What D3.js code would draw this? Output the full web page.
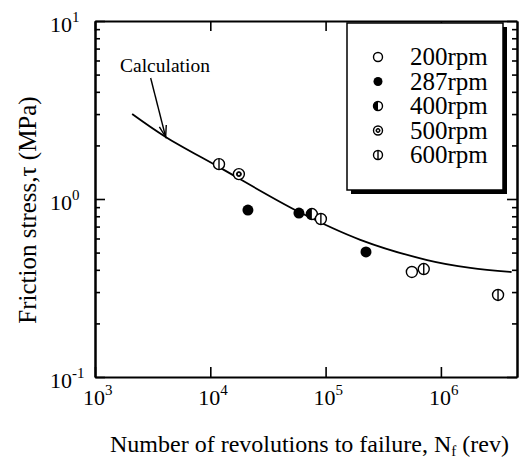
<!DOCTYPE html>
<html>
<head>
<meta charset="utf-8">
<script src="https://cdn.jsdelivr.net/npm/d3@7"></script>
<style>
  html, body { margin: 0; padding: 0; background: #fff; }
  svg { display: block; }
  text { font-family: "Liberation Serif", "Times New Roman", serif; fill: #000; }
</style>
</head>
<body>
<svg id="chart" width="531" height="463"></svg>
<script>
// Measured fatigue life vs. friction stress, grouped by rotational speed
const speeds = ["200rpm", "287rpm", "400rpm", "500rpm", "600rpm"];
const markerKinds = ["open", "filled", "half", "ring", "bar"];

const pointsN   = [1.19e4, 1.77e4, 2.12e4, 5.87e4, 7.6e4, 9.1e4, 2.24e5, 5.6e5, 7.1e5, 3.13e6];
const pointsTau = [1.57,   1.38,   0.867,  0.834,  0.823, 0.772, 0.504,  0.389, 0.404, 0.289];
const pointsSpeed = ["600rpm", "500rpm", "287rpm", "287rpm", "400rpm", "600rpm", "287rpm", "200rpm", "600rpm", "600rpm"];

// Calculated friction stress curve
const calcN   = [2.1e3, 4.1e3, 1.19e4, 5.9e4, 2.0e5, 7.6e5, 1.8e6, 4.1e6];
const calcTau = [3.0,   2.23,  1.51,   0.845, 0.59,  0.454, 0.41,  0.389];
const calcArrowN = 4.1e3, calcArrowTau = 2.23;

const xTickExps = [3, 4, 5, 6];
const yTickExps = [-1, 0, 1];
const yMinor = [];
for (let e = -1; e < 1; e++) for (let m = 2; m <= 9; m++) yMinor.push(m * Math.pow(10, e));

const plotL = 95, plotR = 517, plotT = 21, plotB = 377;
const decadeX = 115.3;

const x = d3.scaleLog()
  .domain([1e3, Math.pow(10, 3 + (plotR - plotL) / decadeX)])
  .range([plotL, plotR]);
const y = d3.scaleLog().domain([0.1, 10]).range([plotB, plotT]);

const svg = d3.select("#chart");

// Axes: ticks point into the plot
const axisStyle = g => {
  g.select(".domain").attr("stroke", "#000").attr("stroke-width", 2);
  g.selectAll(".tick line").attr("stroke", "#000").attr("stroke-width", 1.6);
  g.selectAll(".tick text").remove();
};
const xMajor = xTickExps.map(e => Math.pow(10, e));
const yMajor = yTickExps.map(e => Math.pow(10, e));
svg.append("g").attr("transform", `translate(0,${plotB})`)
  .call(d3.axisBottom(x).tickValues(xMajor).tickSizeInner(-10).tickSizeOuter(0).tickFormat(""))
  .call(axisStyle);
svg.append("g").attr("transform", `translate(0,${plotT})`)
  .call(d3.axisTop(x).tickValues(xMajor).tickSizeInner(-10).tickSizeOuter(0).tickFormat(""))
  .call(axisStyle);
svg.append("g").attr("transform", `translate(${plotL},0)`)
  .call(d3.axisLeft(y).tickValues(yMajor).tickSizeInner(-10).tickSizeOuter(0).tickFormat(""))
  .call(axisStyle);
svg.append("g").attr("transform", `translate(${plotL},0)`)
  .call(d3.axisLeft(y).tickValues(yMinor).tickSizeInner(-5).tickSizeOuter(0).tickFormat(""))
  .call(axisStyle);
svg.append("g").attr("transform", `translate(${plotR},0)`)
  .call(d3.axisRight(y).tickValues(yMajor).tickSizeInner(-10).tickSizeOuter(0).tickFormat(""))
  .call(axisStyle);
svg.append("g").attr("transform", `translate(${plotR},0)`)
  .call(d3.axisRight(y).tickValues(yMinor).tickSizeInner(-5).tickSizeOuter(0).tickFormat(""))
  .call(axisStyle);

// Tick labels as powers of ten
xTickExps.forEach(e => {
  const t = svg.append("text")
    .attr("x", x(Math.pow(10, e)) - 12).attr("y", plotB + 28)
    .attr("font-size", 22);
  t.append("tspan").text("10");
  t.append("tspan").attr("dy", -10).attr("font-size", 15).text(e);
});
yTickExps.forEach(e => {
  const t = svg.append("text")
    .attr("x", 50).attr("y", y(Math.pow(10, e)) + 11)
    .attr("font-size", 22);
  t.append("tspan").text("10");
  t.append("tspan").attr("dy", -10).attr("font-size", 15).text(e);
});

// Axis titles
const xt = svg.append("text").attr("x", 110).attr("y", 452).attr("font-size", 24);
xt.append("tspan").text("Number of revolutions to failure, N");
xt.append("tspan").attr("dy", 4).attr("font-size", 15).text("f");
xt.append("tspan").attr("dy", -4).text(" (rev)");

svg.append("text")
  .attr("transform", `translate(36,${(plotT + plotB) / 2 + 11}) rotate(-90)`)
  .attr("text-anchor", "middle").attr("font-size", 25)
  .text("Friction stress,\u03c4 (MPa)");

// Calculation curve
const line = d3.line()
  .x((d, i) => x(calcN[i])).y((d, i) => y(calcTau[i]))
  .curve(d3.curveCatmullRom.alpha(0.5));
svg.append("path").datum(calcN).attr("d", line)
  .attr("fill", "none").attr("stroke", "#000").attr("stroke-width", 1.8);

// Annotation arrow
const tipX = x(calcArrowN), tipY = y(calcArrowTau);
const tailX = tipX - 15, tailY = tipY - 59;
svg.append("line").attr("x1", tailX).attr("y1", tailY).attr("x2", tipX).attr("y2", tipY)
  .attr("stroke", "#000").attr("stroke-width", 1.4);
{
  const ang = Math.atan2(tipY - tailY, tipX - tailX);
  const len = 12, spread = 0.3;
  const p1 = [tipX - len * Math.cos(ang - spread), tipY - len * Math.sin(ang - spread)];
  const p2 = [tipX - len * Math.cos(ang + spread), tipY - len * Math.sin(ang + spread)];
  svg.append("path").attr("d", `M${p1}L${tipX},${tipY}L${p2}`)
    .attr("fill", "none").attr("stroke", "#000").attr("stroke-width", 1.4);
}
svg.append("text").attr("x", 120).attr("y", 72).attr("font-size", 19.5).text("Calculation");

// Marker drawing
function drawMarker(g, kind, r) {
  const sw = 1.4;
  if (kind === "filled") {
    g.append("circle").attr("r", r).attr("fill", "#000");
    return;
  }
  g.append("circle").attr("r", r).attr("fill", "#fff").attr("stroke", "#000").attr("stroke-width", sw);
  if (kind === "half") {
    g.append("path").attr("d", `M0,${-r}A${r},${r} 0 0 0 0,${r}Z`).attr("fill", "#000");
  } else if (kind === "ring") {
    g.append("circle").attr("r", r * 0.45).attr("fill", "#000").attr("stroke", "#000").attr("stroke-width", 1);
    g.append("circle").attr("r", r * 0.2).attr("fill", "#fff");
  } else if (kind === "bar") {
    g.append("line").attr("x1", 0).attr("x2", 0).attr("y1", -r).attr("y2", r)
      .attr("stroke", "#000").attr("stroke-width", sw);
  }
}
const kindOf = s => markerKinds[speeds.indexOf(s)];

pointsN.forEach((n, i) => {
  const g = svg.append("g").attr("transform", `translate(${x(n)},${y(pointsTau[i])})`);
  drawMarker(g, kindOf(pointsSpeed[i]), 5.5);
});

// Legend with drop shadow
const lg = { x0: 347, y0: 23, x1: 503, y1: 190 };
svg.append("rect").attr("x", lg.x0 + 4).attr("y", lg.y0 + 4)
  .attr("width", lg.x1 - lg.x0).attr("height", lg.y1 - lg.y0).attr("fill", "#000");
svg.append("rect").attr("x", lg.x0).attr("y", lg.y0)
  .attr("width", lg.x1 - lg.x0).attr("height", lg.y1 - lg.y0)
  .attr("fill", "#fff").attr("stroke", "#000").attr("stroke-width", 1.5);
speeds.forEach((s, i) => {
  const cy = 57 + i * 24.5;
  const g = svg.append("g").attr("transform", `translate(378,${cy})`);
  drawMarker(g, markerKinds[i], 4.5);
  svg.append("text").attr("x", 410).attr("y", cy + 8).attr("font-size", 25).text(s);
});
</script>
</body>
</html>
